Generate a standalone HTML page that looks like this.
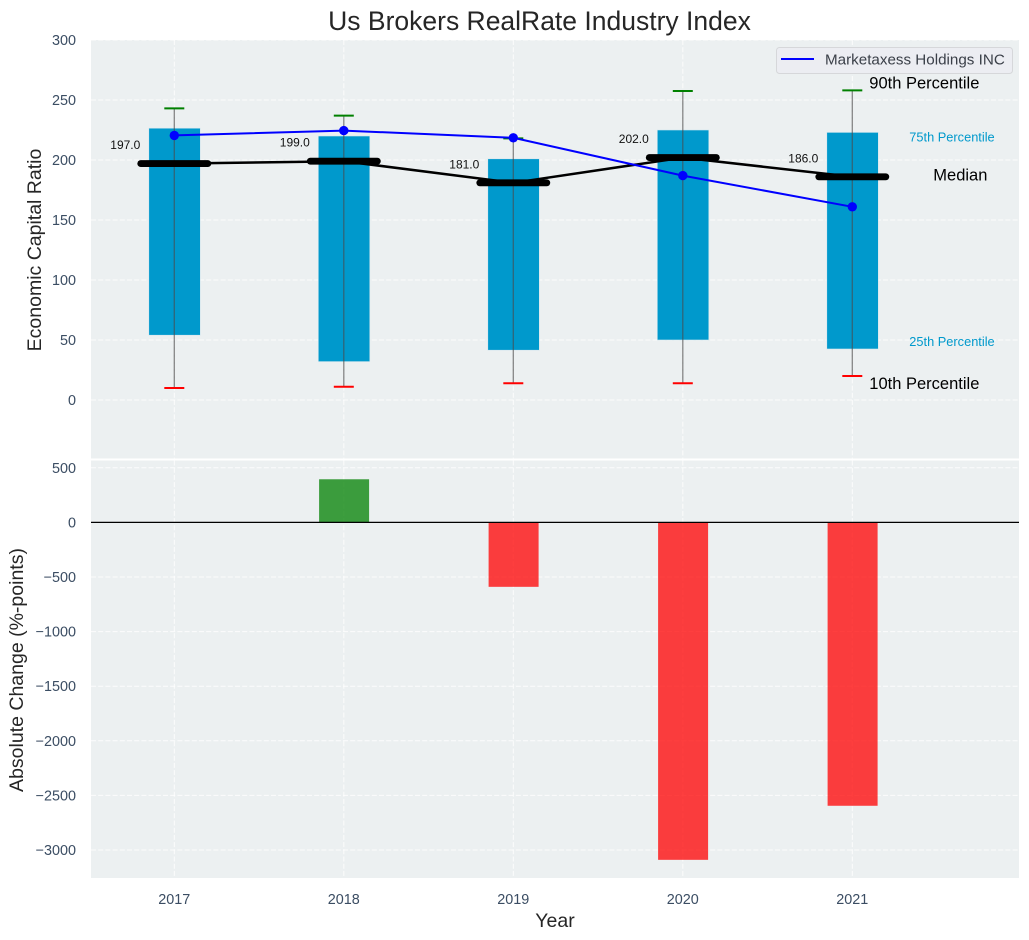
<!DOCTYPE html>
<html>
<head>
<meta charset="utf-8">
<title>Us Brokers RealRate Industry Index</title>
<style>
html,body{margin:0;padding:0;background:#fff;}
svg{display:block;font-family:"Liberation Sans",Arial,sans-serif;}
.tick{font-size:14.4px;fill:#3b4d63;}
.axis-title{font-size:19.5px;fill:#262626;}
</style>
</head>
<body>
<svg id="chart" xmlns="http://www.w3.org/2000/svg" width="1029" height="940" viewBox="0 0 1029 940">
  <rect x="0" y="0" width="1029" height="940" fill="#ffffff"/>
  <text x="539.5" y="30" text-anchor="middle" font-size="26.5" fill="#262626">Us Brokers RealRate Industry Index</text>
  <rect x="91" y="40" width="928" height="418.5" fill="#ecf0f1"/>
  <rect x="91" y="460.5" width="928" height="417.5" fill="#ecf0f1"/>
  <g id="grid"></g>
  <g id="bars"></g>
  <g id="whiskers"></g>
  <g id="medians"></g>
  <g id="company"></g>
  <g id="changes"></g>
  <g id="labels"></g>
  <g id="ticks"></g>
  <text transform="translate(41,250) rotate(-90)" text-anchor="middle" class="axis-title">Economic Capital Ratio</text>
  <text transform="translate(23,670) rotate(-90)" text-anchor="middle" class="axis-title">Absolute Change (%-points)</text>
  <text x="555" y="927" text-anchor="middle" class="axis-title">Year</text>
  <g>
    <rect x="776.5" y="47.5" width="236" height="26" rx="3" fill="#ecedf2" stroke="#d6d7da" stroke-width="1"/>
    <line x1="781" y1="59" x2="814" y2="59" stroke="#0000ff" stroke-width="2"/>
    <text x="825" y="64.5" font-size="15.2" fill="#3a3f48">Marketaxess Holdings INC</text>
  </g>
</svg>
<script>
const years = [2017, 2018, 2019, 2020, 2021];
const p90 = [243, 237, 218, 257.5, 258];
const p75 = [226.5, 220, 201, 225, 223];
const medianValues = [197, 199, 181, 202, 186];
const p25 = [54, 32, 41.5, 50, 42.5];
const p10 = [10, 11, 14, 14, 20];
const companyValues = [220.5, 224.5, 218.5, 187, 161];
const changeValues = [0, 395, -590, -3090, -2595];
const topTicks = [0, 50, 100, 150, 200, 250, 300];
const bottomTicks = [500, 0, -500, -1000, -1500, -2000, -2500, -3000];

const NS = 'http://www.w3.org/2000/svg';
const xScale = function (year) { return 174.3 + (year - 2017) * 169.5; };
const yTop = function (v) { return 400 - v * 1.2; };
const yBottom = function (v) { return 522.4 - v * 0.1092; };

function make(parent, tag, attrs, text) {
  const el = document.createElementNS(NS, tag);
  Object.keys(attrs).forEach(function (k) { el.setAttribute(k, attrs[k]); });
  if (text !== undefined) el.textContent = text;
  parent.appendChild(el);
  return el;
}
function fmtTick(v) { return v < 0 ? '\u2212' + Math.abs(v) : String(v); }

const gridG = document.getElementById('grid');
const barsG = document.getElementById('bars');
const whiskersG = document.getElementById('whiskers');
const mediansG = document.getElementById('medians');
const companyG = document.getElementById('company');
const changesG = document.getElementById('changes');
const labelsG = document.getElementById('labels');
const ticksG = document.getElementById('ticks');
const gridStyle = { stroke: '#ffffff', 'stroke-width': 1, 'stroke-dasharray': '5 2.2', opacity: 0.85 };

topTicks.forEach(function (t) {
  const line = make(gridG, 'line', Object.assign({ x1: 91, x2: 1019, y1: yTop(t), y2: yTop(t) }, gridStyle));
  
  
  const label = make(ticksG, 'text', { x: 76, y: yTop(t) + 5, 'text-anchor': 'end', class: 'tick' }, fmtTick(t));
  
  
});
bottomTicks.forEach(function (t) {
  const line = make(gridG, 'line', Object.assign({ x1: 91, x2: 1019, y1: yBottom(t), y2: yBottom(t) }, gridStyle));
  
  
  const label = make(ticksG, 'text', { x: 76, y: yBottom(t) + 5, 'text-anchor': 'end', class: 'tick' }, fmtTick(t));
  
  
});
years.forEach(function (year) {
  const x = xScale(year);
  const a = make(gridG, 'line', Object.assign({ x1: x, x2: x, y1: 40, y2: 458.5 }, gridStyle));
  
  
  const b = make(gridG, 'line', Object.assign({ x1: x, x2: x, y1: 460.5, y2: 878 }, gridStyle));
  
  
  const label = make(ticksG, 'text', { x: x, y: 904, 'text-anchor': 'middle', class: 'tick' }, String(year));
  
  
});

years.forEach(function (year, i) {
  const x = xScale(year);
  const box = make(barsG, 'rect', { x: x - 25.5, width: 51.5, y: yTop(p75[i]), height: yTop(p25[i]) - yTop(p75[i]), fill: '#0099cc', stroke: '#d3e6ee', 'stroke-width': 0.6 });
  
  

  const stem = make(whiskersG, 'line', { x1: x, x2: x, y1: yTop(p90[i]), y2: yTop(p10[i]), stroke: '#4a4a4a', 'stroke-width': 1.3, opacity: 0.65 });
  
  
  const capHi = make(whiskersG, 'line', { x1: x - 10, x2: x + 10, y1: yTop(p90[i]), y2: yTop(p90[i]), stroke: '#008000', 'stroke-width': 2 });
  
  
  const capLo = make(whiskersG, 'line', { x1: x - 10, x2: x + 10, y1: yTop(p10[i]), y2: yTop(p10[i]), stroke: '#ff0000', 'stroke-width': 2 });
  
  

  const bar = make(changesG, 'rect', { x: x - 24.7, width: 50, y: Math.min(yBottom(changeValues[i]), yBottom(0)), height: Math.abs(yBottom(changeValues[i]) - yBottom(0)), fill: changeValues[i] >= 0 ? '#008000' : '#ff0000', 'fill-opacity': 0.75 });
  
  
});

const medianLine = make(mediansG, 'polyline', { points: years.map(function (y, i) { return xScale(y) + ',' + yTop(medianValues[i]); }).join(' '), fill: 'none', stroke: '#000000', 'stroke-width': 2.5 });



years.forEach(function (year, i) {
  const x = xScale(year);
  const seg = make(mediansG, 'line', { x1: x - 33.5, x2: x + 33.5, y1: yTop(medianValues[i]), y2: yTop(medianValues[i]), stroke: '#000000', 'stroke-width': 6.9, 'stroke-linecap': 'round' });
  
  
  const label = make(labelsG, 'text', { x: x - 34, y: yTop(medianValues[i]) - 14.5, 'text-anchor': 'end', 'font-size': 12, fill: '#111111' }, medianValues[i].toFixed(1));
  
  
});

const companyLine = make(companyG, 'polyline', { points: years.map(function (y, i) { return xScale(y) + ',' + yTop(companyValues[i]); }).join(' '), fill: 'none', stroke: '#0000ff', 'stroke-width': 2 });


years.forEach(function (year, i) {
  const dot = make(companyG, 'circle', { cx: xScale(year), cy: yTop(companyValues[i]), r: 4.7, fill: '#0000ff' });
  
  
});

const zero = make(changesG, 'line', { x1: 91, x2: 1019, y1: yBottom(0), y2: yBottom(0), stroke: '#000000', 'stroke-width': 1.3 });



const last = years.length - 1;
const lastX = xScale(years[last]);
const l90 = make(labelsG, 'text', { x: lastX + 17, y: yTop(p90[last]) - 2, 'font-size': 16.5, fill: '#000000' }, '90th Percentile');


const l75 = make(labelsG, 'text', { x: lastX + 57, y: yTop(p75[last]) + 9, 'font-size': 12.8, fill: '#0099cc' }, '75th Percentile');


const lMed = make(labelsG, 'text', { x: lastX + 81, y: yTop(medianValues[last]) + 3.5, 'font-size': 16.5, fill: '#000000' }, 'Median');


const l25 = make(labelsG, 'text', { x: lastX + 57, y: yTop(p25[last]) - 3, 'font-size': 12.8, fill: '#0099cc' }, '25th Percentile');


const l10 = make(labelsG, 'text', { x: lastX + 17, y: yTop(p10[last]) + 13, 'font-size': 16.5, fill: '#000000' }, '10th Percentile');


</script>
</body>
</html>
